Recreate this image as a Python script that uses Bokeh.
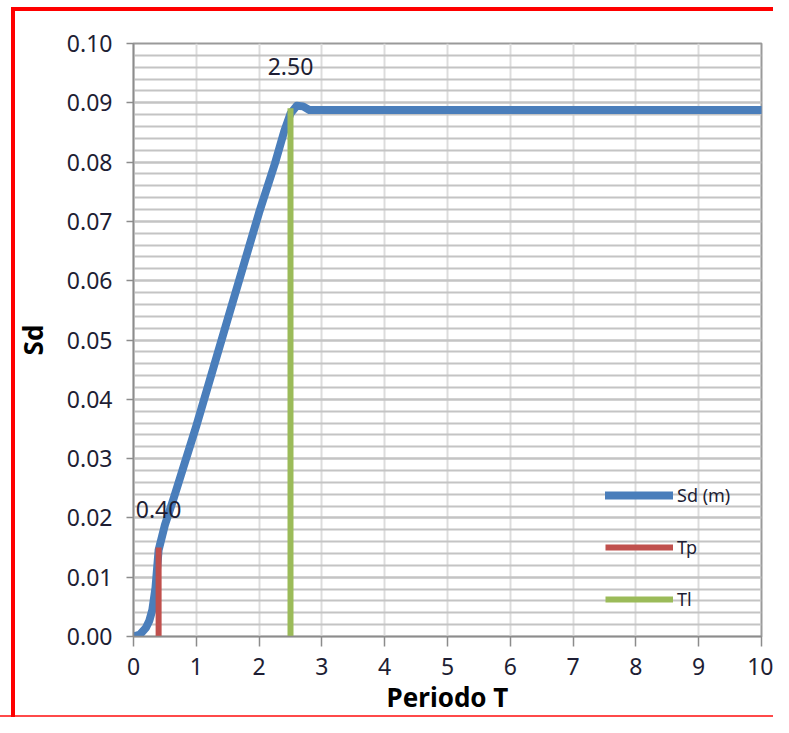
from bokeh.plotting import figure
from bokeh.models import (ColumnDataSource, Legend, LegendItem, FixedTicker,
                          NumeralTickFormatter, Range1d)
from bokeh.core.properties import value
from bokeh.embed import file_html
from bokeh.resources import INLINE

# ---- data ----
periods = [0.0, 0.1, 0.2, 0.25, 0.3, 0.35, 0.4, 0.5, 0.64, 1.0, 1.5, 2.0, 2.25,
           2.4, 2.5, 2.6, 2.7, 2.8, 3.0, 4.0, 5.0, 6.0, 7.0, 8.0, 9.0, 10.0]
sd_m = [0.0, 0.0003, 0.0015, 0.0026, 0.0045, 0.0082, 0.0146, 0.0188, 0.0233,
        0.0355, 0.0535, 0.0715, 0.0797, 0.0852, 0.0882, 0.0895, 0.0894, 0.0888,
        0.0888, 0.0888, 0.0888, 0.0888, 0.0888, 0.0888, 0.0888, 0.0888]
tp_x = [0.40, 0.40]
tp_y = [0.0, 0.0150]
tl_x = [2.50, 2.50]
tl_y = [0.0, 0.0891]
series_names = ["Sd (m)", "Tp", "Tl"]
x_ticks = [0, 1, 2, 3, 4, 5, 6, 7, 8, 9, 10]
y_ticks = [0.00, 0.01, 0.02, 0.03, 0.04, 0.05, 0.06, 0.07, 0.08, 0.09, 0.10]

BLUE, RED, GREEN = "#4A7EBB", "#C0504D", "#9BBB59"
TXT = "#1E1E34"
FONT = "Noto Sans"
W, H = 773, 717

p = figure(width=W, height=H, output_backend="svg", toolbar_location=None,
           x_range=Range1d(0, 10), y_range=Range1d(0, 0.10),
           min_border_left=133, min_border_right=12, min_border_top=43,
           min_border_bottom=80, background_fill_color="white",
           border_fill_color="white", border_fill_alpha=0)

# red frame drawn as the page background behind the transparent border area
p.styles = {
    "background-color": "white",
    "background-image": ("linear-gradient(#FF0000,#FF0000),"
                         "linear-gradient(#FF0000,#FF0000),"
                         "linear-gradient(#FF4A4A,#FF4A4A)"),
    "background-size": "4px 100%, 100% 4px, 100% 2px",
    "background-position": "11px 7px, 11px 7px, 0px 715px",
    "background-repeat": "no-repeat",
}

p.outline_line_color = "#9A9A9A"
p.outline_line_width = 2

# grid
p.xgrid.ticker = FixedTicker(ticks=x_ticks)
p.xgrid.grid_line_color = "#DCDCDC"
p.xgrid.grid_line_width = 2
p.ygrid.ticker = FixedTicker(ticks=y_ticks, minor_ticks=[i * 0.002 for i in range(51)])
p.ygrid.grid_line_color = "#C4C4C4"
p.ygrid.grid_line_width = 2
p.ygrid.minor_grid_line_color = "#C4C4C4"
p.ygrid.minor_grid_line_width = 2

# axes
p.xaxis.ticker = FixedTicker(ticks=x_ticks)
p.yaxis.ticker = FixedTicker(ticks=y_ticks)
p.yaxis.formatter = NumeralTickFormatter(format="0.00")
for ax in (p.xaxis[0], p.yaxis[0]):
    ax.axis_line_color = "#8C8C8C"
    ax.axis_line_width = 1.5
    ax.major_tick_line_color = "#8C8C8C"
    ax.major_tick_line_width = 1.5
    ax.major_tick_in = 0
    ax.minor_tick_line_color = None
    ax.major_label_text_font = FONT
    ax.major_label_text_font_size = "23px"
    ax.major_label_text_color = TXT
    ax.axis_label_text_font = FONT
    ax.axis_label_text_font_style = "bold"
    ax.axis_label_text_font_size = "26px"
    ax.axis_label_text_color = "#000000"
p.xaxis.major_tick_out = 10
p.yaxis.major_tick_out = 7
p.xaxis.major_label_standoff = 11
p.yaxis.major_label_standoff = 14
p.xaxis.axis_label = "Periodo T"
p.yaxis.axis_label = "Sd"
p.xaxis.axis_label_standoff = 1
p.yaxis.axis_label_standoff = 13

# series
src = ColumnDataSource(dict(t=periods, sd=sd_m))
r_sd = p.line("t", "sd", source=src, line_color=BLUE, line_width=8,
              line_join="round", line_cap="round")
r_tp = p.line(tp_x, tp_y, line_color=RED, line_width=6)
r_tl = p.line(tl_x, tl_y, line_color=GREEN, line_width=6)

# data labels at the top of Tp and Tl
p.text(x=[tp_x[1]], y=[tp_y[1]], text=[f"{tp_x[1]:.2f}"], text_align="center",
       text_baseline="middle", y_offset=-38, text_font=value(FONT),
       text_font_size="23px", text_color=TXT)
p.text(x=[tl_x[1]], y=[tl_y[1]], text=[f"{tl_x[1]:.2f}"], text_align="center",
       text_baseline="middle", y_offset=-42, text_font=value(FONT),
       text_font_size="23px", text_color=TXT)

legend = Legend(items=[LegendItem(label=n, renderers=[r])
                       for n, r in zip(series_names, [r_sd, r_tp, r_tl])],
                location=(472, 25), orientation="vertical",
                glyph_width=68, glyph_height=20, label_height=20,
                spacing=28, padding=0, margin=0, label_standoff=4,
                label_text_font=FONT, label_text_font_size="18px",
                label_text_color=TXT, background_fill_alpha=0,
                border_line_color=None)
p.add_layout(legend, "center")

open("out.html", "w").write(file_html(p, INLINE))
